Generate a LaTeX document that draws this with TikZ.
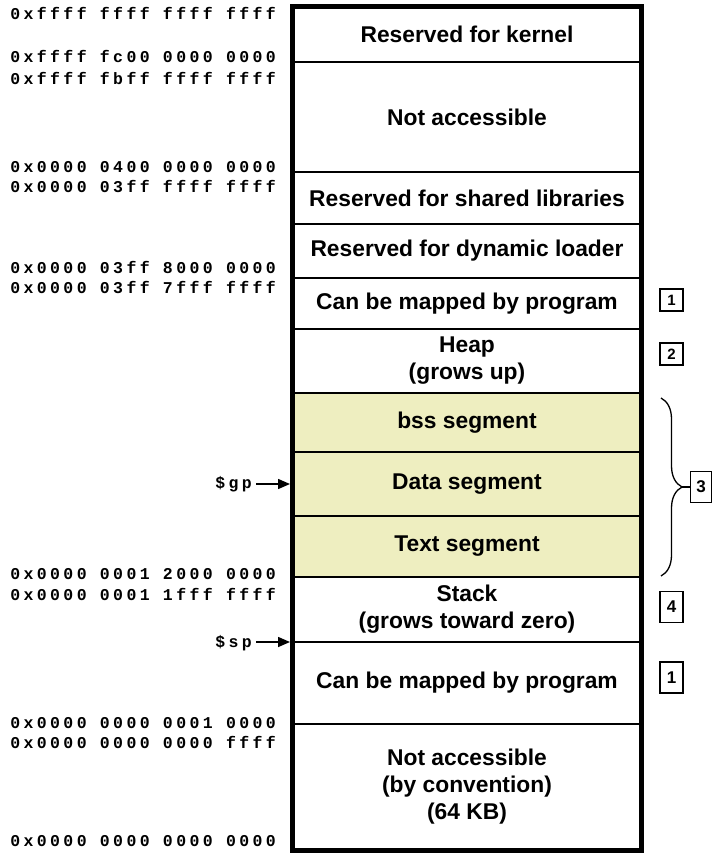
\documentclass[tikz,border=0pt]{standalone}
\usepackage{fontspec}
\setmainfont{Liberation Sans}
\newfontfamily\addrfont[LetterSpace=20.5]{Liberation Mono}
\usetikzlibrary{arrows.meta,decorations.pathreplacing}
\definecolor{segfill}{RGB}{238,238,192}
\tikzset{
  seg/.style={draw,line width=2.2pt,minimum width=349pt,inner sep=0pt,outer sep=0pt,align=center,
    font=\fontsize{22.8}{27}\selectfont\bfseries},
  addr/.style={anchor=base east,inner sep=0pt,font=\fontsize{16.5}{16.5}\selectfont\addrfont\bfseries},
  badge/.style={draw,line width=1.2pt,minimum width=23pt,minimum height=22pt,inner sep=0pt,
    font=\fontsize{15}{15}\selectfont\bfseries},
  tallbadge/.style={badge,minimum height=31pt,font=\fontsize{17}{17}\selectfont\bfseries},
  ptr/.style={-{Triangle[length=12pt,width=10pt]},line width=1.5pt,shorten <=4pt,shorten >=2.5pt}
}

\begin{document}
\begin{tikzpicture}[x=1pt,y=-1pt]
	\useasboundingbox (0,0) rectangle (712,853);
	% segments, top of memory first
	\foreach \ya/\yb/\nm/\col/\lbl in {6.5/62/kernel/white/{Reserved for kernel},
		62/172/noacc/white/{Not accessible},
		172/224/shlib/white/{Reserved for shared libraries},
		224/278/dynld/white/{Reserved for dynamic loader},
		278/329/mapA/white/{Can be mapped by program},
		329/393/heap/white/{Heap\\(grows up)},
		393/452/bss/segfill/{bss segment},
		452/516/data/segfill/{Data segment},
		516/577/txtseg/segfill/{Text segment},
		577/642/stack/white/{Stack\\(grows toward zero)},
		642/724/mapB/white/{Can be mapped by program},
		724/850/nullpg/white/{Not accessible\\(by convention)\\(64 KB)}}{
		\pgfmathsetmacro\segh{\yb-\ya}
		\pgfmathsetmacro\segy{(\ya+\yb)/2}
		\node[seg,fill=\col,minimum height=\segh pt] (\nm) at (467,\segy) {\lbl};
	}
	\draw[line width=5pt] (kernel.north west) rectangle (nullpg.south east);
	% addresses
	\foreach \y/\a [count=\i] in {20/0xffff ffff ffff ffff, 63/0xffff fc00 0000 0000, 85/0xffff fbff ffff ffff,
		172/0x0000 0400 0000 0000, 192/0x0000 03ff ffff ffff, 273/0x0000 03ff 8000 0000,
		293/0x0000 03ff 7fff ffff, 579/0x0000 0001 2000 0000, 600/0x0000 0001 1fff ffff,
		728/0x0000 0000 0001 0000, 748/0x0000 0000 0000 ffff, 846/0x0000 0000 0000 0000}
		\node[addr] (addr\i) at (276,\y) {\a};
	% registers
	\node[addr] (gp) at (252,488) {\$gp};
	\node[addr] (sp) at (252,647) {\$sp};
	\draw[ptr] (gp.east |- data.west) -- (data.west);
	\draw[ptr] (sp.east |- stack.south) -- (stack.south west);
	% notes
	\node[badge] (b1) at (671.5,300) {1};
	\node[badge] (b2) at (671.5,354) {2};
	\node[tallbadge,minimum width=21pt] (b3) at (701,487) {3};
	\node[tallbadge] (b4) at (671.5,607) {4};
	\node[tallbadge] (b5) at (671.5,677.5) {1};
	\coordinate (brtop) at (661,398);
	\coordinate (brbot) at (661,576);
	\coordinate (brtip) at (682,487);
	\draw[line width=1.3pt,decorate,decoration={brace,amplitude=21pt}] (brtop) -- (brbot);
	\draw[line width=1.3pt] (brtip) -- (b3.west);
\end{tikzpicture}
\end{document}
